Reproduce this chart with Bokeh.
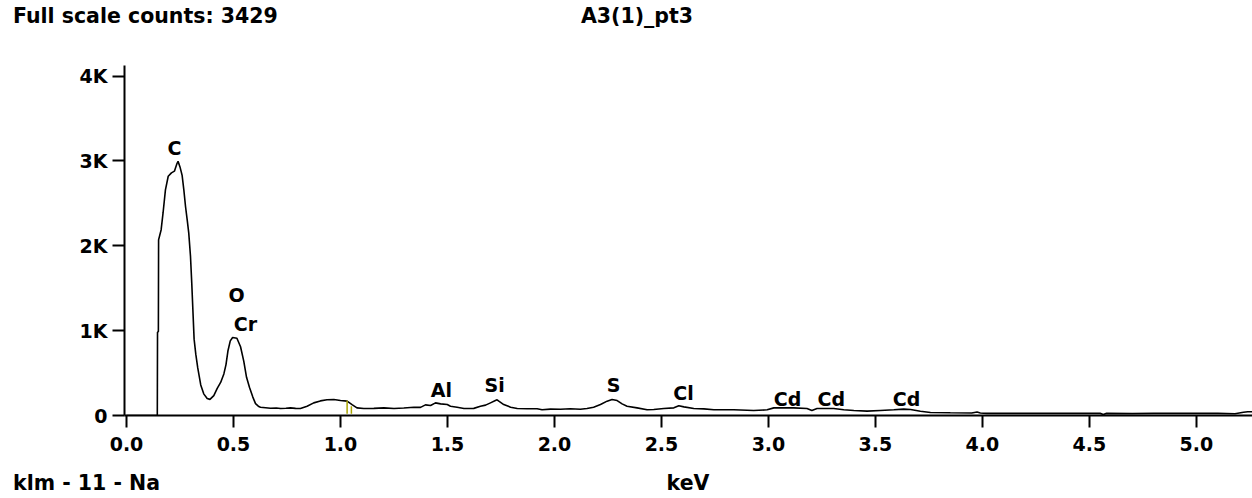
from bokeh.plotting import figure
from bokeh.models import FixedTicker, Range1d, PrintfTickFormatter, Div
from bokeh.layouts import column
from bokeh.core.properties import value
from bokeh.embed import file_html
from bokeh.resources import INLINE

# ---- data ----
energy_kev = [0.000, 0.144, 0.145, 0.149, 0.150, 0.162, 0.171, 0.182, 0.195, 0.210,
              0.224, 0.236, 0.241, 0.250, 0.260, 0.268, 0.276, 0.284, 0.291, 0.299,
              0.305, 0.311, 0.316, 0.324, 0.333, 0.340, 0.347, 0.361, 0.377, 0.390,
              0.408, 0.424, 0.440, 0.455, 0.465, 0.474, 0.485, 0.496, 0.516, 0.533,
              0.548, 0.561, 0.575, 0.590, 0.603, 0.616, 0.626, 0.650, 0.673, 0.700,
              0.720, 0.745, 0.766, 0.790, 0.813, 0.844, 0.875, 0.906, 0.937, 0.969,
              1.000, 1.031, 1.054, 1.077, 1.109, 1.156, 1.203, 1.250, 1.296, 1.343,
              1.374, 1.397, 1.421, 1.444, 1.468, 1.499, 1.514, 1.545, 1.577, 1.623,
              1.654, 1.678, 1.701, 1.724, 1.732, 1.740, 1.763, 1.795, 1.826, 1.872,
              1.919, 1.942, 1.981, 2.028, 2.074, 2.121, 2.152, 2.183, 2.215, 2.246,
              2.269, 2.293, 2.316, 2.339, 2.386, 2.433, 2.464, 2.511, 2.558, 2.581,
              2.605, 2.651, 2.698, 2.745, 2.776, 2.838, 2.931, 2.994, 3.025, 3.118,
              3.180, 3.203, 3.227, 3.305, 3.352, 3.399, 3.461, 3.523, 3.586, 3.632,
              3.664, 3.710, 3.757, 3.850, 3.950, 3.975, 3.990, 4.020, 4.300, 4.550,
              4.565, 4.580, 4.700, 4.800, 5.100, 5.180, 5.220, 5.240, 5.260]
counts = [0, 0, 980, 990, 2070, 2190, 2390, 2660, 2820, 2860,
          2880, 2970, 2995, 2930, 2830, 2660, 2460, 2300, 2150, 1880,
          1560, 1200, 900, 720, 560, 460, 360, 255, 200, 190,
          235, 320, 390, 490, 600, 760, 880, 920, 910, 810,
          640, 450, 330, 220, 140, 110, 98, 92, 85, 88,
          82, 86, 90, 84, 82, 110, 149, 172, 186, 188,
          176, 169, 129, 90, 82, 84, 90, 82, 88, 98,
          96, 125, 118, 149, 137, 129, 110, 98, 82, 84,
          108, 122, 149, 176, 185, 169, 129, 98, 82, 80,
          80, 67, 75, 74, 80, 74, 82, 98, 129, 169,
          188, 176, 137, 110, 90, 67, 71, 82, 90, 114,
          102, 82, 78, 67, 67, 67, 59, 67, 90, 90,
          82, 59, 82, 82, 67, 59, 51, 59, 67, 75,
          70, 51, 35, 32, 30, 42, 30, 25, 25, 25,
          12, 25, 22, 25, 25, 20, 38, 45, 45]

peak_labels = ["C", "O", "Cr", "Al", "Si", "S", "Cl", "Cd", "Cd", "Cd"]
peak_label_kev = [0.224, 0.514, 0.556, 1.472, 1.720, 2.276, 2.603, 3.089, 3.294, 3.645]
peak_label_counts = [3147, 1426, 1084, 295, 354, 354, 271, 200, 200, 200]

klm_marker_kev = [1.031, 1.051]
klm_marker_low = [20, 20]
klm_marker_high = [176, 110]

y_ticks = [0, 1000, 2000, 3000, 4000]
y_tick_labels = ["0", "1K", "2K", "3K", "4K"]
x_ticks = [0.0, 0.5, 1.0, 1.5, 2.0, 2.5, 3.0, 3.5, 4.0, 4.5, 5.0]

header_left = "Full scale counts: 3429"
header_title = "A3(1)_pt3"
footer_left = "klm - 11 - Na"
x_unit = "keV"

FONT = "DejaVu Sans"
INK = "#000000"
W = 1252

p = figure(width=W, height=422, output_backend="svg", toolbar_location=None,
           x_range=Range1d(-0.0093, 5.262), y_range=Range1d(0, 4125),
           margin=(0, 0, 0, 0))
p.min_border_left = 124
p.min_border_right = 0
p.min_border_top = 27
p.min_border_bottom = 45
p.outline_line_color = None
p.background_fill_color = "white"
p.border_fill_color = "white"
p.xgrid.visible = False
p.ygrid.visible = False

for ax in (p.xaxis[0], p.yaxis[0]):
    ax.axis_line_color = INK
    ax.axis_line_width = 2
    ax.major_tick_line_color = INK
    ax.major_tick_line_width = 2
    ax.major_tick_in = 0
    ax.major_tick_out = 12
    ax.minor_tick_line_color = None
    ax.major_label_text_font = FONT
    ax.major_label_text_font_style = "bold"
    ax.major_label_text_font_size = "19px"
    ax.major_label_text_color = INK

p.yaxis[0].ticker = FixedTicker(ticks=y_ticks)
p.yaxis[0].major_label_overrides = dict(zip(y_ticks, y_tick_labels))
p.yaxis[0].major_label_standoff = 5
p.xaxis[0].ticker = FixedTicker(ticks=x_ticks)
p.xaxis[0].formatter = PrintfTickFormatter(format="%.1f")
p.xaxis[0].major_label_standoff = 9

# spectrum
p.line(energy_kev, counts, line_color=INK, line_width=1.6)

# KLM markers
p.segment(x0=klm_marker_kev, y0=klm_marker_low, x1=klm_marker_kev, y1=klm_marker_high,
          line_color="#a9a400", line_width=1.5)

# peak labels
p.text(x=peak_label_kev, y=peak_label_counts, text=peak_labels,
       text_font=value(FONT), text_font_style="bold", text_font_size="19px",
       text_color=INK, text_align="center", text_baseline="middle")

TXT = f"font-family:'{FONT}';font-weight:bold;font-size:20.5px;color:{INK};line-height:20px;white-space:nowrap;position:absolute;"

header = Div(width=W, height=38, margin=(0, 0, 0, 0), text=(
    f'<div style="position:relative;width:{W}px;height:38px;">'
    f'<span style="{TXT}left:13px;top:6px;">{header_left}</span>'
    f'<span style="{TXT}left:637px;top:6px;transform:translateX(-50%);">{header_title}</span>'
    '</div>'))

footer = Div(width=W, height=38, margin=(0, 0, 0, 0), text=(
    f'<div style="position:relative;width:{W}px;height:38px;">'
    f'<span style="{TXT}left:13px;top:13px;">{footer_left}</span>'
    f'<span style="{TXT}left:688px;top:13px;transform:translateX(-50%);">{x_unit}</span>'
    '</div>'))

layout = column(header, p, footer, spacing=0, margin=(0, 0, 0, 0))

open("out.html", "w").write(file_html(layout, INLINE))
